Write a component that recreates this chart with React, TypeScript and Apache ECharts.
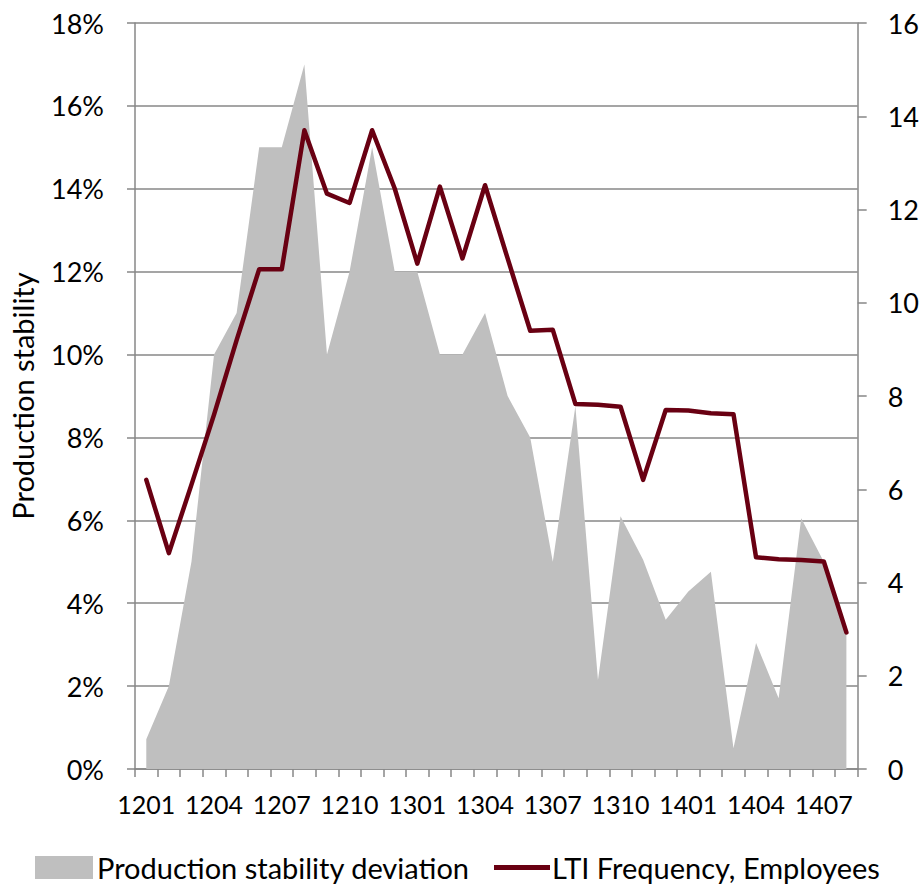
import React, { useEffect, useRef } from "react";
import * as echarts from "echarts";

const categories = [
  "1201", "1202", "1203", "1204", "1205", "1206", "1207", "1208", "1209", "1210", "1211", "1212",
  "1301", "1302", "1303", "1304", "1305", "1306", "1307", "1308", "1309", "1310", "1311", "1312",
  "1401", "1402", "1403", "1404", "1405", "1406", "1407", "1408",
];

// Production stability deviation, in %
const deviation = [
  0.72, 2.0, 5.0, 10.0, 11.0, 15.0, 15.0, 17.0, 10.0, 12.0, 15.0, 12.0,
  12.0, 10.0, 10.0, 11.0, 9.0, 8.0, 5.0, 8.75, 2.15, 6.1, 5.05, 3.6,
  4.28, 4.76, 0.5, 3.04, 1.71, 6.05, 5.0, 3.28,
];

// LTI Frequency, Employees
const lti = [
  6.2, 4.63, 6.1, 7.6, 9.2, 10.72, 10.72, 13.7, 12.34, 12.14, 13.7, 12.45,
  10.84, 12.49, 10.95, 12.52, 10.95, 9.4, 9.42, 7.83, 7.81, 7.77, 6.2, 7.7,
  7.69, 7.63, 7.61, 4.54, 4.5, 4.48, 4.45, 2.93,
];

const FONT = "Lato";
const GRID_COLOR = "#878787";

export default function App() {
  const ref = useRef<HTMLDivElement>(null);
  useEffect(() => {
    if (!ref.current) return;
    const chart = echarts.init(ref.current, undefined, { renderer: "svg" });
    chart.setOption({
      animation: false,
      backgroundColor: "#ffffff",
      textStyle: { fontFamily: FONT },
      grid: { left: 134, right: 64, top: 23, bottom: 117, containLabel: false },
      legend: [
        {
          left: 30,
          top: 848,
          itemWidth: 58,
          itemHeight: 23,
          itemGap: 0,
          icon: "rect",
          data: ["Production stability deviation"],
          textStyle: { fontFamily: FONT, fontSize: 29, color: "#000", padding: [0, 0, 0, -1] },
        },
        {
          left: 489,
          top: 848,
          itemWidth: 56,
          itemHeight: 5,
          itemGap: 0,
          icon: "rect",
          data: ["LTI Frequency, Employees"],
          textStyle: { fontFamily: FONT, fontSize: 29, color: "#000", padding: [0, 0, 0, -3] },
        },
      ],
      xAxis: {
        type: "category",
        data: categories,
        boundaryGap: true,
        axisLine: { lineStyle: { color: GRID_COLOR, width: 1.5 } },
        axisTick: { show: true, interval: 0, length: 8, lineStyle: { color: GRID_COLOR, width: 1.5 } },
        axisLabel: { interval: 2, fontFamily: FONT, fontSize: 25, color: "#000", margin: 22 },
      },
      yAxis: [
        {
          type: "value",
          min: 0,
          max: 18,
          interval: 2,
          name: "Production stability",
          nameLocation: "middle",
          nameGap: 98,
          nameTextStyle: { fontFamily: FONT, fontSize: 29, color: "#000" },
          axisLine: { show: true, lineStyle: { color: GRID_COLOR, width: 1.5 } },
          axisTick: { show: true, length: 8, lineStyle: { color: GRID_COLOR, width: 1.5 } },
          axisLabel: { formatter: "{value}%", fontFamily: FONT, fontSize: 27, color: "#000", margin: 31 },
          splitLine: { show: true, lineStyle: { color: GRID_COLOR, width: 1.5 } },
        },
        {
          type: "value",
          min: 0,
          max: 16,
          interval: 2,
          position: "right",
          axisLine: { show: true, lineStyle: { color: GRID_COLOR, width: 1.5 } },
          axisTick: { show: true, length: 9, lineStyle: { color: GRID_COLOR, width: 1.5 } },
          axisLabel: { fontFamily: FONT, fontSize: 27, color: "#000", margin: 30 },
          splitLine: { show: false },
        },
      ],
      series: [
        {
          name: "Production stability deviation",
          type: "line",
          yAxisIndex: 0,
          data: deviation,
          showSymbol: false,
          symbol: "none",
          color: "#BFBFBF",
          lineStyle: { width: 0, color: "#BFBFBF" },
          areaStyle: { color: "#BFBFBF", opacity: 1 },
          z: 2,
        },
        {
          name: "LTI Frequency, Employees",
          type: "line",
          yAxisIndex: 1,
          data: lti,
          showSymbol: false,
          symbol: "none",
          color: "#690012",
          lineStyle: { width: 4.5, color: "#690012", cap: "round", join: "round" },
          z: 3,
        },
      ],
    });
    return () => chart.dispose();
  }, []);
  return (
    <div
      ref={ref}
      style={{ position: "absolute", left: 0, top: 0, width: 922, height: 886 }}
    />
  );
}
